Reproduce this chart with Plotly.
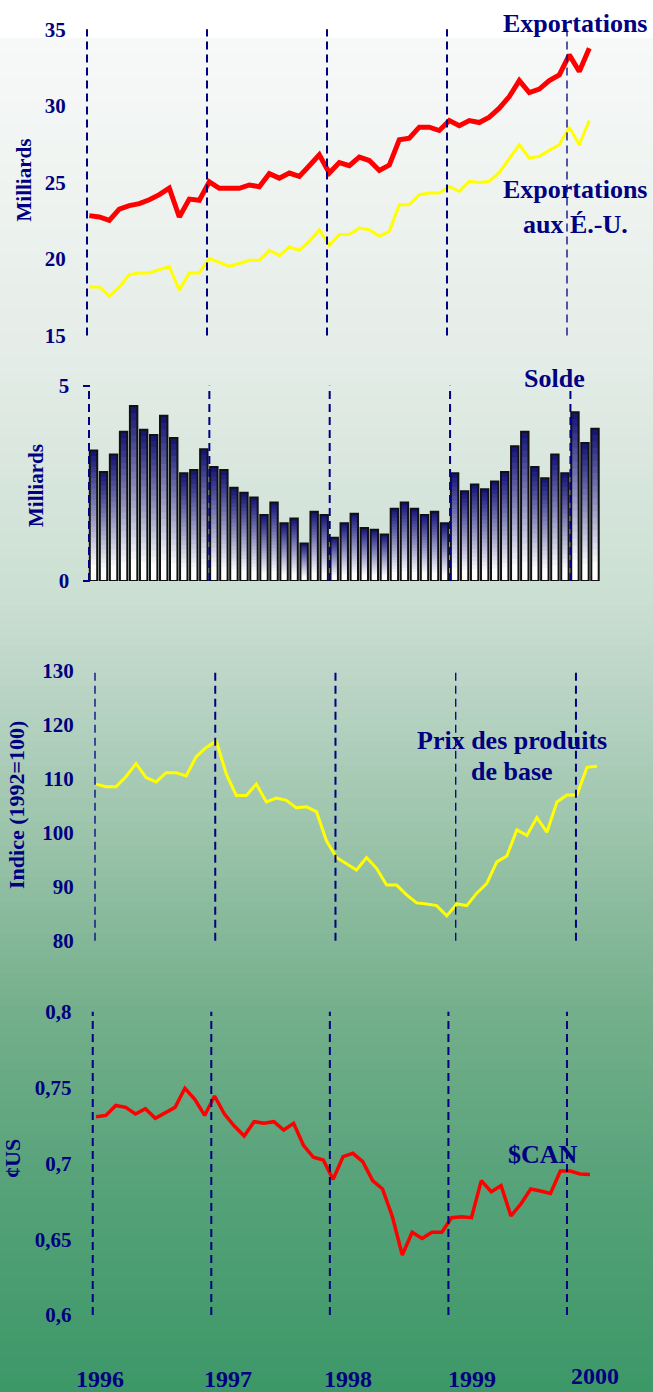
import plotly.graph_objects as go

W, H = 653, 1392

# ---------------- data (monthly, Jan 1996 - Mar 2000) ----------------
mois = list(range(51))  # month index since January 1996

exportations = [22.83, 22.74, 22.52, 23.26, 23.48, 23.61, 23.87, 24.20, 24.63, 22.74, 23.91, 23.83,
                25.04, 24.61, 24.61, 24.61, 24.83, 24.72, 25.57, 25.28, 25.61, 25.39, 26.09, 26.80,
                25.61, 26.30, 26.09, 26.65, 26.43, 25.78, 26.13, 27.78, 27.89, 28.61, 28.61, 28.39,
                29.04, 28.70, 29.04, 28.91, 29.26, 29.85, 30.61, 31.65, 30.87, 31.09, 31.65, 32.02,
                33.33, 32.24, 33.76]

exportations_eu = [18.17, 18.17, 17.57, 18.17, 18.98, 19.09, 19.09, 19.30, 19.52, 17.96, 19.09, 19.09,
                   20.04, 19.78, 19.52, 19.70, 19.91, 19.91, 20.57, 20.22, 20.78, 20.57, 21.15, 21.91,
                   20.87, 21.59, 21.59, 22.02, 21.91, 21.48, 21.80, 23.54, 23.54, 24.20, 24.30, 24.30,
                   24.74, 24.41, 25.07, 25.00, 25.07, 25.65, 26.52, 27.46, 26.59, 26.70, 27.09, 27.46,
                   28.61, 27.46, 29.04]

solde = [3.34, 2.79, 3.24, 3.82, 4.48, 3.87, 3.74, 4.23, 3.66, 2.76, 2.84, 3.37,
         2.92, 2.84, 2.39, 2.26, 2.14, 1.69, 2.01, 1.48, 1.60, 0.96, 1.77, 1.69,
         1.11, 1.48, 1.72, 1.36, 1.31, 1.19, 1.85, 2.01, 1.85, 1.69, 1.77, 1.48,
         2.76, 2.30, 2.47, 2.35, 2.55, 2.79, 3.45, 3.82, 2.92, 2.63, 3.24, 2.76,
         4.32, 3.53, 3.90]

prix_base = [109.0, 108.5, 108.5, 110.4, 112.8, 110.2, 109.4, 111.1, 111.1, 110.5, 114.1, 115.8,
             117.0, 110.9, 106.9, 106.9, 109.0, 105.7, 106.4, 106.0, 104.6, 104.8, 103.9, 98.5,
             95.4, 94.2, 93.1, 95.4, 93.4, 90.3, 90.3, 88.5, 87.0, 86.8, 86.5, 84.6,
             86.8, 86.5, 88.8, 90.6, 94.6, 95.7, 100.5, 99.5, 102.8, 100.1, 105.7, 107.0,
             107.0, 112.1, 112.3]

dollar_can = [0.7308, 0.7316, 0.7382, 0.7369, 0.7325, 0.7360, 0.7297, 0.7330, 0.7369, 0.7495, 0.7422, 0.7316,
              0.7444, 0.7325, 0.7246, 0.7180, 0.7275, 0.7264, 0.7275, 0.7220, 0.7264, 0.7119, 0.7040, 0.7022,
              0.6894, 0.7044, 0.7066, 0.7011, 0.6886, 0.6831, 0.6648, 0.6396, 0.6545, 0.6505, 0.6545, 0.6545,
              0.6642, 0.6648, 0.6642, 0.6886, 0.6813, 0.6853, 0.6653, 0.6732, 0.6831, 0.6818, 0.6802, 0.6949,
              0.6949, 0.6930, 0.6927]

annees = ["1996", "1997", "1998", "1999", "2000"]
ticks_milliards = [15, 20, 25, 30, 35]
ticks_solde = [0, 5]
ticks_indice = [80, 90, 100, 110, 120, 130]
ticks_cad = [0.6, 0.65, 0.7, 0.75, 0.8]

# ---------------- styling ----------------
NAVY = "#000080"
FONT = "Liberation Serif"


def yp(px):
    return 1 - px / H


def xp(px):
    return px / W


fig = go.Figure()

# ---------------- background gradient ----------------
stops = [(38, (247, 249, 248)), (350, (229, 237, 232)), (600, (203, 223, 210)),
         (700, (184, 211, 195)), (850, (152, 194, 168)), (1000, (118, 176, 141)),
         (1200, (84, 161, 120)), (1392, (60, 152, 104))]


def bg_color(p):
    for (a, ca), (b, cb) in zip(stops[:-1], stops[1:]):
        if a <= p <= b:
            t = (p - a) / (b - a)
            c = [round(ca[i] + (cb[i] - ca[i]) * t) for i in range(3)]
            return "rgb(%d,%d,%d)" % tuple(c)
    return "rgb(%d,%d,%d)" % stops[-1][1]


shapes = []
step = 8
p = 38
while p < H:
    q = min(p + step, H)
    shapes.append(dict(type="rect", xref="paper", yref="paper", x0=0, x1=1,
                       y0=max(0, yp(q + 0.5)), y1=yp(p), fillcolor=bg_color((p + q) / 2),
                       line=dict(width=0), layer="below"))
    p = q

# ---------------- panel geometry (pixel based) ----------------
# A = axis / first separator px, p0 = px of month 0, s = px per month
panels = {
    1: dict(A=87, R=605, p0=89.3, s=10.0, top=29.3, bot=335.5, off=-0.23),
    2: dict(A=89.5, R=605, p0=93.5, s=10.03, top=385.7, bot=581, off=-0.45),
    3: dict(A=95, R=605, p0=96, s=10.02, top=670.7, bot=940.7, off=-0.1),
    4: dict(A=92.7, R=605, p0=96, s=9.88, top=1011.7, bot=1315, off=-0.33),
}

# ---------------- traces ----------------
fig.add_trace(go.Scatter(x=mois, y=exportations_eu, mode="lines", xaxis="x", yaxis="y",
                         line=dict(color="#ffff00", width=3), name="Exportations aux É.-U."))
fig.add_trace(go.Scatter(x=mois, y=exportations, mode="lines", xaxis="x", yaxis="y",
                         line=dict(color="#ff0000", width=5), name="Exportations"))

N = 24
dark = (22, 22, 122)
for k in range(N):
    f = min(1.0, (k / (N - 1)) / 0.92)
    c = tuple(round(dark[i] + (255 - dark[i]) * f) for i in range(3))
    fig.add_trace(go.Bar(x=mois, y=[v * (N - k) / N for v in solde], xaxis="x2", yaxis="y2",
                         width=0.74, marker=dict(color="rgb(%d,%d,%d)" % c, line=dict(width=0)),
                         hoverinfo="skip", showlegend=False))
fig.add_trace(go.Bar(x=mois, y=solde, xaxis="x2", yaxis="y2", width=0.74, name="Solde",
                     marker=dict(color="rgba(0,0,0,0)", line=dict(color="#111111", width=2))))

fig.add_trace(go.Scatter(x=mois, y=prix_base, mode="lines", xaxis="x3", yaxis="y3",
                         line=dict(color="#ffff00", width=3), name="Prix des produits de base"))
fig.add_trace(go.Scatter(x=mois, y=dollar_can, mode="lines", xaxis="x4", yaxis="y4",
                         line=dict(color="#ff0000", width=3.5), name="$CAN"))

# ---------------- axes ----------------
tickfont = dict(family=FONT, size=21, color=NAVY, weight="bold")
layout_axes = {}
yinfo = {
    1: dict(range=[15, 35], tickvals=ticks_milliards, ticktext=[str(v) for v in ticks_milliards]),
    2: dict(range=[0, 5], tickvals=ticks_solde, ticktext=[str(v) for v in ticks_solde]),
    3: dict(range=[80, 130], tickvals=ticks_indice, ticktext=[str(v) for v in ticks_indice]),
    4: dict(range=[0.6, 0.8], tickvals=ticks_cad,
            ticktext=[("%g" % v).replace(".", ",") for v in ticks_cad]),
}
for n, g in panels.items():
    xs = "" if n == 1 else str(n)
    L = g["A"] - 6
    rng = [(L - g["p0"]) / g["s"], (g["R"] - g["p0"]) / g["s"]]
    layout_axes["xaxis" + xs] = dict(domain=[xp(L), xp(g["R"])], range=rng,
                                     anchor="y" + xs, showticklabels=False, showgrid=False,
                                     zeroline=False, showline=False, ticks="", fixedrange=True,
                                     automargin=False)
    yd = dict(domain=[yp(g["bot"]), yp(g["top"])], anchor="free", position=xp(g["A"]),
              showgrid=False, zeroline=False, showline=False, tickfont=tickfont,
              tickmode="array", fixedrange=True, automargin=False, **yinfo[n])
    if n == 2:
        yd.update(ticks="outside", ticklen=7, tickwidth=2, tickcolor=NAVY, ticklabelstandoff=9)
    else:
        yd.update(ticks="outside", ticklen=17, tickcolor="rgba(0,0,0,0)")
    layout_axes["yaxis" + xs] = yd

    for i in range(len(annees)):
        xv = 12 * i + g["off"]
        w = 2
        if (n == 3 and i in (0, 3)) or (n == 1 and i == 4):
            w = 1.3
        shapes.append(dict(type="line", xref="x" + xs, yref="y" + xs + " domain",
                           x0=xv, x1=xv, y0=0, y1=1,
                           line=dict(color=NAVY, width=w, dash="8px,5px"), layer="above"))

# ---------------- annotations ----------------
ann = []


def label(text, x, y, size=26, angle=0):
    ann.append(dict(text=text, x=xp(x), y=yp(y), xref="paper", yref="paper",
                    xanchor="center", yanchor="middle", showarrow=False, textangle=angle,
                    font=dict(family=FONT, size=size, color=NAVY, weight="bold")))


label("Exportations", 575, 23)
label("Exportations", 575, 190)
label("aux É.-U.", 575, 224)
label("Solde", 554, 378)
label("Prix des produits", 512, 740)
label("de base", 512, 771)
label("$CAN", 543, 1154)

label("Milliards", 23.5, 180, size=21, angle=-90)
label("Milliards", 36, 486, size=21, angle=-90)
label("Indice (1992=100)", 16, 805, size=22, angle=-90)
label("¢US", 12, 1159, size=22, angle=-90)

year_x = [100, 228, 348, 472, 595]
year_y = [1379, 1379, 1379, 1379, 1376]
for t, x, y in zip(annees, year_x, year_y):
    label(t, x, y, size=24)

fig.update_layout(width=W, height=H,
                  margin=dict(l=0, r=0, t=0, b=0, pad=0, autoexpand=False),
                  paper_bgcolor="white", plot_bgcolor="rgba(0,0,0,0)",
                  showlegend=False, barmode="overlay", shapes=shapes, annotations=ann,
                  font=dict(family=FONT, color=NAVY), **layout_axes)

fig.write_html("out.html", config={"displayModeBar": False},
               post_script="document.body.style.margin='0';document.body.style.padding='0';"
                           "document.body.style.overflow='hidden';")
